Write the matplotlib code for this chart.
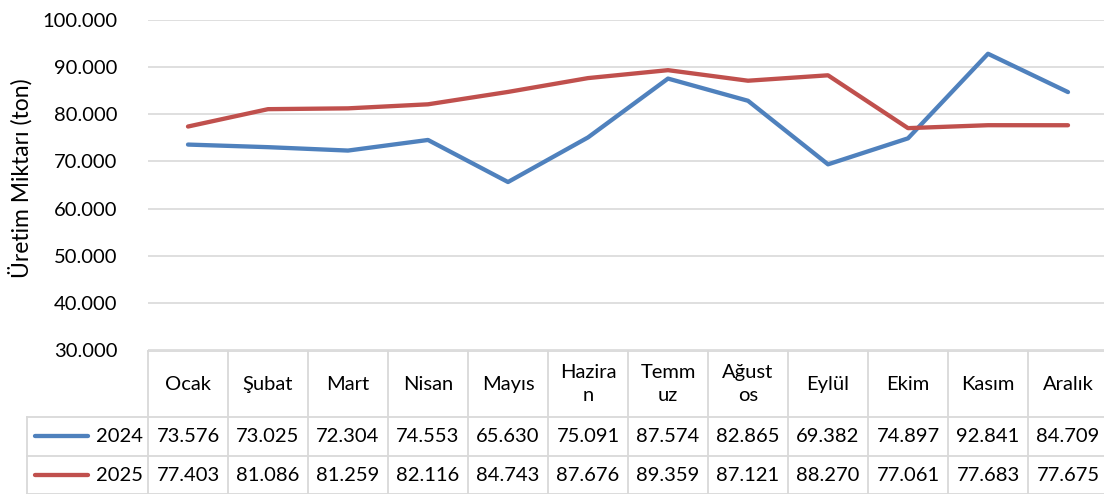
import matplotlib.pyplot as plt
from matplotlib.ticker import FuncFormatter
import matplotlib.transforms as mtransforms

plt.rcParams['font.family'] = ['Lato', 'DejaVu Sans']

# veriler
aylar = ['Ocak', 'Şubat', 'Mart', 'Nisan', 'Mayıs', 'Hazira\nn', 'Temm\nuz',
         'Ağust\nos', 'Eylül', 'Ekim', 'Kasım', 'Aralık']
uretim_2024 = [73576, 73025, 72304, 74553, 65630, 75091, 87574, 82865, 69382, 74897, 92841, 84709]
uretim_2025 = [77403, 81086, 81259, 82116, 84743, 87676, 89359, 87121, 88270, 77061, 77683, 77675]
seri_adlari = ['2024', '2025']
renkler = ['#4F81BD', '#C0504D']

W, H = 1104, 494
fig = plt.figure(figsize=(W / 100, H / 100), dpi=100)
# cizim alani (piksel olculeri referanstan)
ax_top, ax_bot = 20, 350
ax = fig.add_axes([148 / W, (H - ax_bot) / H, 960 / W, (ax_bot - ax_top) / H])

x = list(range(len(aylar)))
for seri, renk in zip([uretim_2024, uretim_2025], renkler):
    ax.plot(x, seri, color=renk, lw=3.1, solid_capstyle='round', solid_joinstyle='round', zorder=3)

ax.set_xlim(-0.5, len(aylar) - 0.5)
ax.set_ylim(30000, 100000)
ax.set_yticks(range(30000, 100001, 10000))
ax.yaxis.set_major_formatter(FuncFormatter(lambda v, p: f"{v / 1000:.3f}"))
ax.set_xticks([])
ax.tick_params(axis='y', length=0, pad=22, labelsize=14.5, labelcolor='#000000')
ax.grid(axis='y', color='#D9D9D9', lw=1.2)
for s in ax.spines.values():
    s.set_visible(False)
ax.set_axisbelow(True)

fig.text(20 / W, 1 - 178 / H, 'Üretim Miktarı (ton)', rotation=90, ha='center', va='center', fontsize=16.5)

# veri tablosu: x veri biriminde, y piksel -> eksen kesri
tr = mtransforms.blended_transform_factory(ax.transData, ax.transAxes)


def yf(py):
    return (ax_bot - py) / (ax_bot - ax_top)


def px(p):
    return (p - 148) / 80 - 0.5


cizgi = dict(color='#D9D9D9', lw=1.3, transform=tr, clip_on=False)
sol, sag = -0.5, len(aylar) - 0.5
ax.plot([sol, sag], [yf(351), yf(351)], **cizgi)
for py in [417, 456, 494]:
    ax.plot([px(27), sag], [yf(py), yf(py)], **cizgi)
for i in range(len(aylar) + 1):
    ax.plot([sol + i, sol + i], [yf(351), yf(494)], **cizgi)
ax.plot([px(27), px(27)], [yf(417), yf(494)], **cizgi)

for i, ay in enumerate(aylar):
    ax.text(i, yf(384), ay, transform=tr, ha='center', va='center', fontsize=14.5,
            linespacing=1.4, clip_on=False)

for seri, ad, renk, py in zip([uretim_2024, uretim_2025], seri_adlari, renkler, [436, 475]):
    for i, v in enumerate(seri):
        ax.text(i, yf(py), f"{v:,}".replace(',', '.'), transform=tr, ha='center', va='center',
                fontsize=14.5, clip_on=False)
    ax.plot([px(35), px(88)], [yf(py), yf(py)], color=renk, lw=3.1, solid_capstyle='round',
            transform=tr, clip_on=False)
    ax.text(px(143), yf(py), ad, transform=tr, ha='right', va='center', fontsize=14.5, clip_on=False)

fig.savefig('out.png', dpi=100)
